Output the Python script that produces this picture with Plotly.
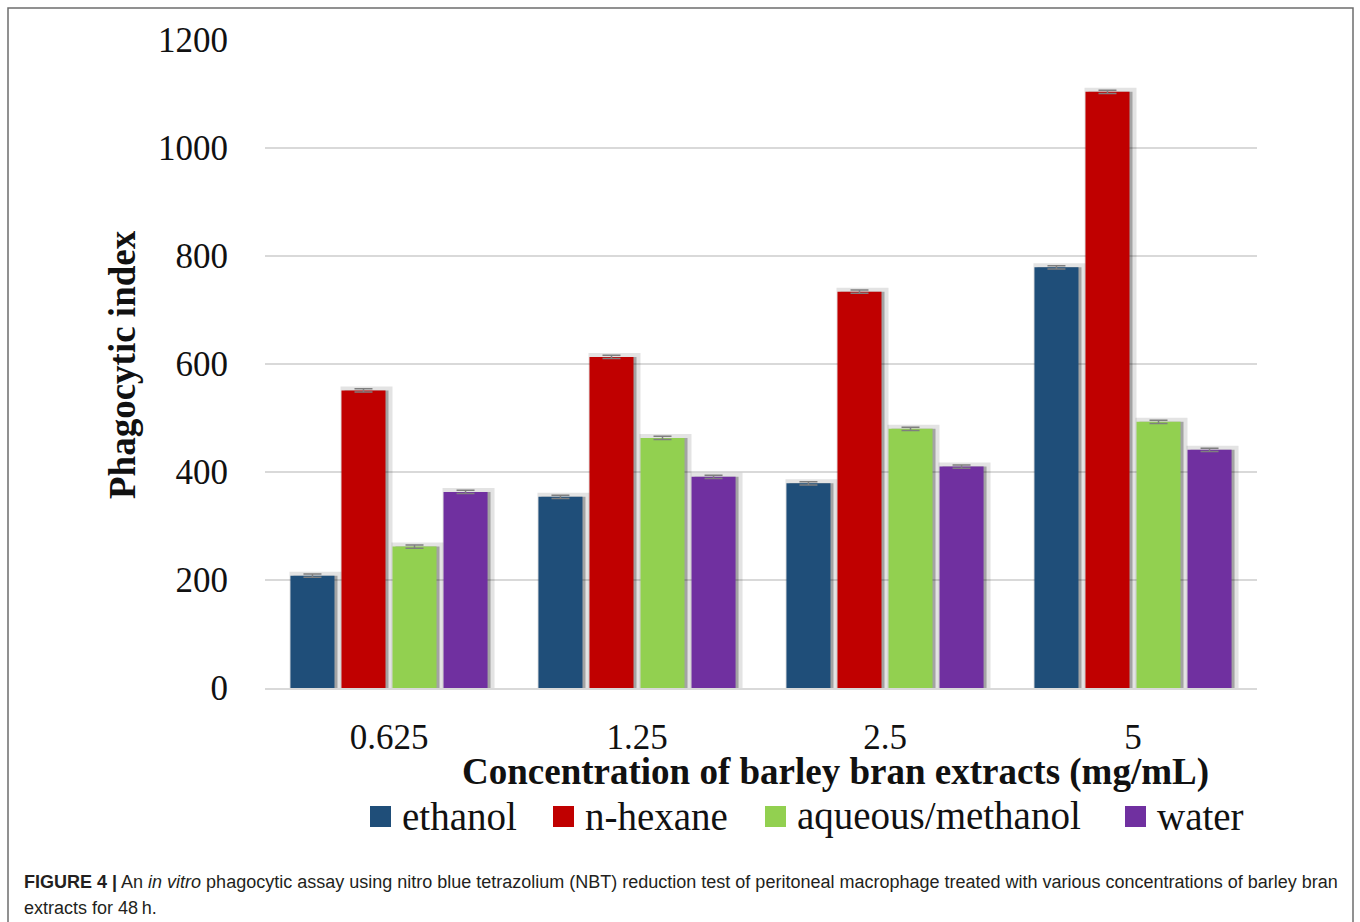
import plotly.graph_objects as go

# Concentrations (mg/mL) and phagocytic index per extract
concentrations = ["0.625", "1.25", "2.5", "5"]
ethanol = [208, 354, 379, 779]
n_hexane = [551, 613, 734, 1104]
aqueous_methanol = [262, 463, 480, 493]
water = [363, 391, 410, 441]
errors = [3, 3, 3, 3]

series_names = ["ethanol", "n-hexane", "aqueous/methanol", "water"]
series_values = [ethanol, n_hexane, aqueous_methanol, water]
series_colors = ["#1f4e79", "#c00000", "#92d050", "#7030a0"]

y_ticks = [0, 200, 400, 600, 800, 1000, 1200]

W, H = 1360, 922
L, R, T, B = 265, 103, 40, 234
PW, PH = W - L - R, H - T - B

SERIF = "Palatino Linotype, Book Antiqua, Liberation Serif, serif"
SANS = "Liberation Sans, Arial, sans-serif"
BAR_GAP, GROUP_GAP = 0.177, 0.137


def px_x(x):
    return (x - L) / PW


def px_y(y):
    return (H - B - y) / PH


fig = go.Figure()

# soft drop shadows under the bars (base axes, slightly shifted right)
for vals in series_values:
    fig.add_trace(go.Bar(
        x=concentrations, y=vals, xaxis="x", yaxis="y",
        marker=dict(color="rgba(0,0,0,0.28)",
                    line=dict(color="rgba(0,0,0,0.11)", width=8)),
        hoverinfo="skip", showlegend=False,
    ))

# the bars themselves, on an overlaid axis pair
for name, vals, col in zip(series_names, series_values, series_colors):
    fig.add_trace(go.Bar(
        x=concentrations, y=vals, name=name, xaxis="x2", yaxis="y2",
        marker=dict(color=col, line=dict(width=0)),
        error_y=dict(type="data", array=errors, color="#7f7f7f",
                     thickness=1.5, width=9),
        showlegend=False,
    ))

txt = dict(xref="paper", yref="paper", showarrow=False, yanchor="middle")
annotations = [
    dict(text="<b>Phagocytic index</b>", x=px_x(122), y=px_y(365),
         xanchor="center", textangle=-90,
         font=dict(family=SERIF, size=37, color="#111"), **txt),
    dict(text="<b>Concentration of barley bran extracts (mg/mL)</b>",
         x=px_x(835), y=px_y(772), xanchor="center",
         font=dict(family=SERIF, size=37, color="#111"), **txt),
    dict(text="<b>FIGURE 4 |</b> An <i>in vitro</i> phagocytic assay using nitro blue "
              "tetrazolium (NBT) reduction test of peritoneal macrophage treated with "
              "various concentrations of barley bran",
         x=px_x(22), y=px_y(882), xanchor="left",
         font=dict(family=SANS, size=18, color="#231f20"), **txt),
    dict(text="extracts for 48\u2009h.",
         x=px_x(22), y=px_y(908), xanchor="left",
         font=dict(family=SANS, size=18, color="#231f20"), **txt),
]

shapes = [
    # outer frame
    dict(type="rect", xref="paper", yref="paper",
         x0=px_x(8), x1=px_x(1353), y0=px_y(940), y1=px_y(8),
         line=dict(color="#6d6d6d", width=1.5), layer="below"),
]

# legend row
legend_sq = [370, 553, 765, 1125]
for xs, name, col in zip(legend_sq, series_names, series_colors):
    shapes.append(dict(type="rect", xref="paper", yref="paper",
                       x0=px_x(xs), x1=px_x(xs + 21),
                       y0=px_y(827), y1=px_y(806),
                       fillcolor=col, line=dict(width=0)))
    annotations.append(dict(text=name, x=px_x(xs + 30), y=px_y(816),
                            xanchor="left",
                            font=dict(family=SERIF, size=39, color="#111"), **txt))

shift = 3 / (PW / len(concentrations))
fig.update_layout(
    width=W, height=H,
    margin=dict(l=L, r=R, t=T, b=B),
    paper_bgcolor="white", plot_bgcolor="white",
    barmode="group", bargap=BAR_GAP, bargroupgap=GROUP_GAP,
    font=dict(family=SERIF, color="#111"),
    xaxis=dict(type="category", categoryorder="array", categoryarray=concentrations,
               range=[-0.5 - shift, len(concentrations) - 0.5 - shift],
               showgrid=False, showline=False, ticks="", showticklabels=False),
    yaxis=dict(range=[0, 1200], tickvals=y_ticks, showgrid=True,
               gridcolor="#d9d9d9", gridwidth=2, zeroline=False, showline=False,
               ticks="", tickfont=dict(family=SERIF, size=35, color="#111"),
               ticklabelstandoff=36),
    xaxis2=dict(type="category", categoryorder="array", categoryarray=concentrations,
                range=[-0.5, len(concentrations) - 0.5], overlaying="x",
                side="bottom", anchor="y2",
                showgrid=False, showline=True, linecolor="#d9d9d9", linewidth=2,
                ticks="", tickfont=dict(family=SERIF, size=35, color="#111"),
                ticklabelstandoff=17),
    yaxis2=dict(range=[0, 1200], overlaying="y", anchor="x2", showgrid=False,
                zeroline=False, showline=False, showticklabels=False, ticks=""),
    annotations=annotations,
    shapes=shapes,
)

fig.write_html("out.html")
